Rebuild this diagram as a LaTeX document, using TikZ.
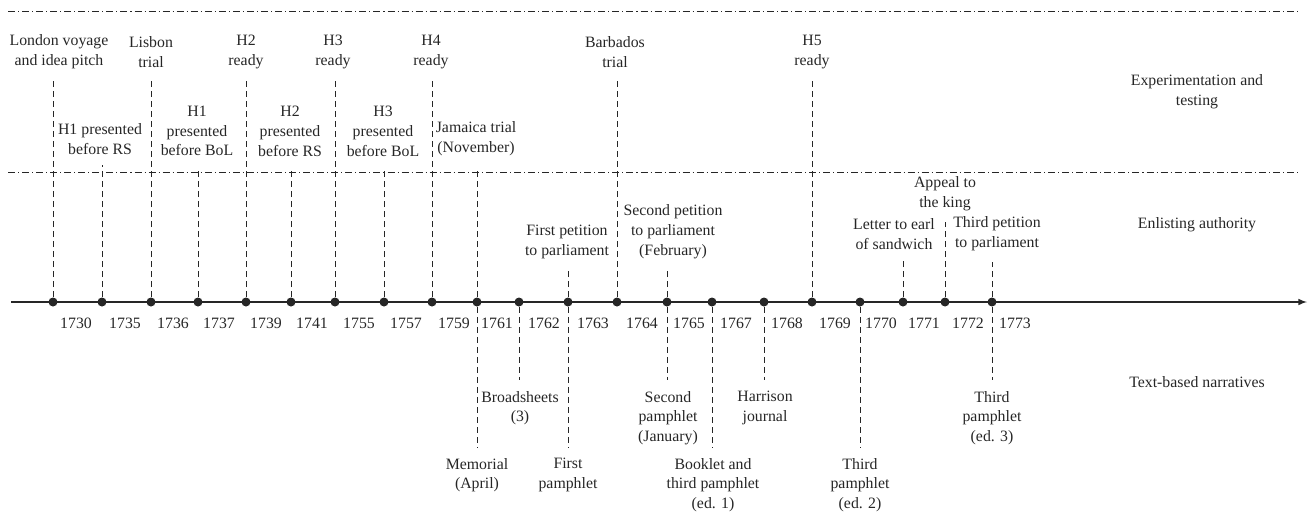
\documentclass[tikz,border=0pt]{standalone}
\usepackage{fontspec}
\setmainfont{Liberation Serif}
\definecolor{ink}{gray}{0.15}

\begin{document}
\begin{tikzpicture}[x=0.02cm, y=-0.02cm,
	every node/.style={text=ink, font=\fontsize{9}{11.3}\selectfont},
	evt/.style={align=center, inner sep=1pt},
	yr/.style={inner sep=1pt},
	tdot/.style={circle, fill=ink, inner sep=0pt, minimum size=0.18cm},
	vdash/.style={draw=ink, line width=0.5pt, dash pattern=on 3.4pt off 2.3pt, shorten >=5pt},
	band/.style={draw=ink, line width=0.5pt, dash pattern=on 4pt off 1.7pt on 0.6pt off 1.7pt}]
	\useasboundingbox (0,0) rectangle (1309,514);

	\coordinate (topL) at (8,11);
	\coordinate (topR) at (1300,11);
	\coordinate (midL) at (8,172);
	\coordinate (midR) at (1300,172);
	\coordinate (axisL) at (11,302);
	\coordinate (axisR) at (1307,302);
	\draw [band] (topL) -- (topR);
	\draw [band] (midL) -- (midR);
	\draw [ink, line width=0.7pt, -latex] (axisL) -- (axisR);

	\node at (1197,92) [evt] (exper) {Experimentation and\\testing};
	\node at (1197,225) [evt] (enlist) {Enlisting authority};
	\node at (1197,382) [evt] (text) {Text-based narratives};

	\node at (53,302) [tdot] (d1730) {};
	\node at (102,302) [tdot] (d1735) {};
	\node at (151,302) [tdot] (d1736) {};
	\node at (198,302) [tdot] (d1737) {};
	\node at (246,302) [tdot] (d1739) {};
	\node at (291,302) [tdot] (d1741) {};
	\node at (335,302) [tdot] (d1755) {};
	\node at (384,302) [tdot] (d1757) {};
	\node at (432,302) [tdot] (d1759) {};
	\node at (477,302) [tdot] (d1761) {};
	\node at (519,302) [tdot] (d1762) {};
	\node at (568,302) [tdot] (d1763) {};
	\node at (617,302) [tdot] (d1764) {};
	\node at (667,302) [tdot] (d1765) {};
	\node at (712,302) [tdot] (d1767) {};
	\node at (764,302) [tdot] (d1768) {};
	\node at (812,302) [tdot] (d1769) {};
	\node at (860,302) [tdot] (d1770) {};
	\node at (903,302) [tdot] (d1771) {};
	\node at (945,302) [tdot] (d1772) {};
	\node at (992,302) [tdot] (d1773) {};

	\node at (76,323) [yr] (y1730) {1730};
	\node at (125,323) [yr] (y1735) {1735};
	\node at (173,323) [yr] (y1736) {1736};
	\node at (219,323) [yr] (y1737) {1737};
	\node at (266,323) [yr] (y1739) {1739};
	\node at (312,323) [yr] (y1741) {1741};
	\node at (359,323) [yr] (y1755) {1755};
	\node at (406,323) [yr] (y1757) {1757};
	\node at (454,323) [yr] (y1759) {1759};
	\node at (497,323) [yr] (y1761) {1761};
	\node at (544,323) [yr] (y1762) {1762};
	\node at (593,323) [yr] (y1763) {1763};
	\node at (642,323) [yr] (y1764) {1764};
	\node at (689,323) [yr] (y1765) {1765};
	\node at (736,323) [yr] (y1767) {1767};
	\node at (787,323) [yr] (y1768) {1768};
	\node at (835,323) [yr] (y1769) {1769};
	\node at (881,323) [yr] (y1770) {1770};
	\node at (924,323) [yr] (y1771) {1771};
	\node at (968,323) [yr] (y1772) {1772};
	\node at (1015,323) [yr] (y1773) {1773};

	\node at (59,52) [evt] (london) {London voyage\\and idea pitch};
	\node at (151,52) [evt] (lisbon) {Lisbon\\trial};
	\node at (246,52) [evt] (hTwo) {H2\\ready};
	\node at (333,52) [evt] (hThree) {H3\\ready};
	\node at (431,52) [evt] (hFour) {H4\\ready};
	\node at (615,52) [evt] (barbados) {Barbados\\trial};
	\node at (812,52) [evt] (hFive) {H5\\ready};

	\node at (100,139) [evt] (rsOne) {H1 presented\\before RS};
	\node at (197,131) [evt] (bolOne) {H1\\presented\\before BoL};
	\node at (290,131) [evt] (rsTwo) {H2\\presented\\before RS};
	\node at (383,131) [evt] (bolThree) {H3\\presented\\before BoL};
	\node at (476,139) [evt] (jamaica) {Jamaica trial\\(November)};

	\node at (567,242) [evt] (petOne) {First petition\\to parliament};
	\node at (673,232) [evt] (petTwo) {Second petition\\to parliament\\(February)};
	\node at (894,234) [evt] (letter) {Letter to earl\\of sandwich};
	\node at (945,194) [evt] (appeal) {Appeal to\\the king};
	\node at (997,234) [evt] (petThree) {Third petition\\to parliament};

	\node at (520,389) [evt, anchor=north] (broad) {Broadsheets\\(3)};
	\node at (668,389) [evt, anchor=north] (pamTwo) {Second\\pamphlet\\(January)};
	\node at (765,389) [evt, anchor=north] (harrison) {Harrison\\journal};
	\node at (992,389) [evt, anchor=north] (pamEdThree) {Third\\pamphlet\\(ed. 3)};
	\node at (477,456) [evt, anchor=north] (memorial) {Memorial\\(April)};
	\node at (568,456) [evt, anchor=north] (pamOne) {First\\pamphlet};
	\node at (713,456) [evt, anchor=north] (booklet) {Booklet and\\third pamphlet\\(ed. 1)};
	\node at (860,456) [evt, anchor=north] (pamEdTwo) {Third\\pamphlet\\(ed. 2)};

	\draw [vdash] (d1730) -- (d1730 |- london.south);
	\draw [vdash] (d1735) -- (d1735 |- rsOne.south);
	\draw [vdash] (d1736) -- (d1736 |- lisbon.south);
	\draw [vdash] (d1737) -- (d1737 |- bolOne.south);
	\draw [vdash] (d1739) -- (d1739 |- hTwo.south);
	\draw [vdash] (d1741) -- (d1741 |- rsTwo.south);
	\draw [vdash] (d1755) -- (d1755 |- hThree.south);
	\draw [vdash] (d1757) -- (d1757 |- bolThree.south);
	\draw [vdash] (d1759) -- (d1759 |- hFour.south);
	\draw [vdash] (d1761) -- (d1761 |- jamaica.south);
	\draw [vdash] (d1761) -- (d1761 |- memorial.north);
	\draw [vdash] (d1762) -- (d1762 |- broad.north);
	\draw [vdash] (d1763) -- (d1763 |- petOne.south);
	\draw [vdash] (d1763) -- (d1763 |- pamOne.north);
	\draw [vdash] (d1764) -- (d1764 |- barbados.south);
	\draw [vdash] (d1765) -- (d1765 |- petTwo.south);
	\draw [vdash] (d1765) -- (d1765 |- pamTwo.north);
	\draw [vdash] (d1767) -- (d1767 |- booklet.north);
	\draw [vdash] (d1768) -- (d1768 |- harrison.north);
	\draw [vdash] (d1769) -- (d1769 |- hFive.south);
	\draw [vdash] (d1770) -- (d1770 |- pamEdTwo.north);
	\draw [vdash] (d1771) -- (d1771 |- letter.south);
	\draw [vdash] (d1772) -- (d1772 |- appeal.south);
	\draw [vdash] (d1773) -- (d1773 |- petThree.south);
	\draw [vdash] (d1773) -- (d1773 |- pamEdThree.north);
\end{tikzpicture}
\end{document}
